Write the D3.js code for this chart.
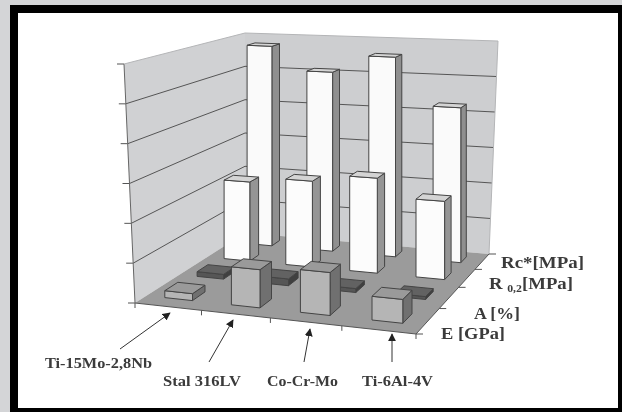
<!DOCTYPE html>
<html>
<head>
<meta charset="utf-8">
<script src="https://cdn.jsdelivr.net/npm/d3@7"></script>
<style>
html, body { margin: 0; padding: 0; background: #d4d5d7; }
svg { display: block; }
text { font-family: "Liberation Serif", serif; font-weight: bold; fill: #3a3a3a; }
</style>
</head>
<body>
<svg id="chart" width="622" height="412"></svg>
<script>
// values
var materials = ["Ti-15Mo-2,8Nb", "Stal 316LV", "Co-Cr-Mo", "Ti-6Al-4V"];
var properties = ["E [GPa]", "A [%]", "R 0,2[MPa]", "Rc*[MPa]"];
var eValues = [35, 190, 210, 115];
var aValues = [25, 35, 20, 15];
var r02Values = [440, 470, 512, 415];
var rcValues = [1155, 1020, 1120, 855];
var seriesValues = [eValues, aValues, r02Values, rcValues];
var valueTicks = [0, 200, 400, 600, 800, 1000, 1200];

var width = 622, height = 412;
var svg = d3.select("#chart");

// the 3d box of the chart: [front, back] at floor and at top of the walls
var floorLeft = [[135, 303], [245, 233]];
var floorRight = [[416, 334], [489, 254]];
var topLeft = [[124, 64], [245, 33]];
var topRight = [[433, 79], [498, 41]];

var xScale = d3.scaleBand().domain(materials).range([0, 1]).paddingInner(0.58).paddingOuter(0.28);
var zScale = d3.scaleBand().domain(properties).range([0, 1]).paddingInner(0.62).paddingOuter(0.31);
var yScale = d3.scaleLinear().domain([0, 1200]).range([0, 1]);

function lerp(a, b, t) {
    return [a[0] + (b[0] - a[0]) * t, a[1] + (b[1] - a[1]) * t];
}

// perspective squeeze along one floor direction
function warp(t, k) {
    return t * k / (1 + (k - 1) * t);
}

// u along the materials, v into the depth, w up the value axis
function project(u, v, w) {
    var a = warp(u, 0.93), b = warp(v, 1.4);
    var bottom = lerp(lerp(floorLeft[0], floorRight[0], a), lerp(floorLeft[1], floorRight[1], a), b);
    var up = lerp(lerp(topLeft[0], topRight[0], a), lerp(topLeft[1], topRight[1], a), b);
    return lerp(bottom, up, w);
}

// the bars stand straight up, only the walls lean
function projectBar(u, v, w) {
    return [project(u, v, 0)[0], project(u, v, w)[1]];
}

function poly(points) {
    return points.map(function (p) { return p[0].toFixed(1) + "," + p[1].toFixed(1); }).join(" ");
}

var defs = svg.append("defs");
defs.append("filter").attr("id", "soft")
    .attr("x", "-5%").attr("y", "-5%").attr("width", "110%").attr("height", "110%")
    .append("feGaussianBlur").attr("stdDeviation", 0.5);
defs.append("marker").attr("id", "arrow")
    .attr("viewBox", "0 0 10 10").attr("refX", 9).attr("refY", 5)
    .attr("markerWidth", 8).attr("markerHeight", 8).attr("markerUnits", "userSpaceOnUse")
    .attr("orient", "auto")
    .append("path").attr("d", "M0,0L10,5L0,10z").attr("fill", "#222");

// picture frame
svg.append("rect").attr("x", 10).attr("y", 5).attr("width", 612).attr("height", 407).attr("fill", "#000");
svg.append("rect").attr("x", 18).attr("y", 13).attr("width", 600).attr("height", 395).attr("fill", "#fff");

var plot = svg.append("g").attr("filter", "url(#soft)");

// walls and floor
plot.append("polygon").attr("points", poly([project(0, 0, 0), project(0, 1, 0), project(0, 1, 1), project(0, 0, 1)]))
    .attr("fill", "#d0d1d3");
plot.append("polygon").attr("points", poly([project(0, 1, 0), project(1, 1, 0), project(1, 1, 1), project(0, 1, 1)]))
    .attr("fill", "#cdced0");
plot.append("polygon").attr("points", poly([project(0, 0, 0), project(1, 0, 0), project(1, 1, 0), project(0, 1, 0)]))
    .attr("fill", "#9b9b9b");

// gridlines on the walls
valueTicks.forEach(function (t, i) {
    var w = yScale(t);
    if (i > 0 && i < valueTicks.length - 1) {
        plot.append("polyline").attr("points", poly([project(0, 0, w), project(0, 1, w), project(1, 1, w)]))
            .attr("fill", "none").attr("stroke", "#555").attr("stroke-width", 1);
    }
    var p = project(0, 0, w);
    plot.append("line").attr("x1", p[0] - 7).attr("y1", p[1]).attr("x2", p[0]).attr("y2", p[1])
        .attr("stroke", "#555");
});

// wall edges
plot.append("line").attr("x1", project(0, 0, 0)[0]).attr("y1", project(0, 0, 0)[1])
    .attr("x2", project(0, 0, 1)[0]).attr("y2", project(0, 0, 1)[1]).attr("stroke", "#666");
plot.append("polyline").attr("points", poly([project(0, 0, 1), project(0, 1, 1), project(1, 1, 1), project(1, 1, 0)]))
    .attr("fill", "none").attr("stroke", "#b4b5b7");

// floor edges and ticks
plot.append("polyline").attr("points", poly([project(0, 0, 0), project(1, 0, 0), project(1, 1, 0)]))
    .attr("fill", "none").attr("stroke", "#555");
d3.range(0, 5).forEach(function (i) {
    var a = project(i / 4, 0, 0);
    plot.append("line").attr("x1", a[0]).attr("y1", a[1]).attr("x2", a[0]).attr("y2", a[1] + 5).attr("stroke", "#555");
    var b = project(1, i / 4, 0);
    plot.append("line").attr("x1", b[0]).attr("y1", b[1]).attr("x2", b[0] + 7).attr("y2", b[1]).attr("stroke", "#555");
});

// bar colours per row
var frontFill = ["#b5b5b5", "#565656", "#fcfcfc", "#fafafa"];
var sideFill = ["#707070", "#3f3f3f", "#959595", "#8f8f8f"];
var topFill = ["#9a9a9a", "#626262", "#d4d4d4", "#d4d4d4"];

// back row first so the front rows paint over it
d3.range(properties.length - 1, -1, -1).forEach(function (row) {
    var z0 = zScale(properties[row]), z1 = z0 + zScale.bandwidth();
    materials.forEach(function (m, col) {
        var x0 = xScale(m), x1 = x0 + xScale.bandwidth();
        var w = yScale(seriesValues[row][col]);
        var bar = plot.append("g").attr("stroke", "#444").attr("stroke-width", 1).attr("stroke-linejoin", "round");
        bar.append("polygon").attr("points", poly([projectBar(x1, z0, 0), projectBar(x1, z1, 0), projectBar(x1, z1, w), projectBar(x1, z0, w)]))
            .attr("fill", sideFill[row]);
        bar.append("polygon").attr("points", poly([projectBar(x0, z0, 0), projectBar(x1, z0, 0), projectBar(x1, z0, w), projectBar(x0, z0, w)]))
            .attr("fill", frontFill[row]);
        bar.append("polygon").attr("points", poly([projectBar(x0, z0, w), projectBar(x1, z0, w), projectBar(x1, z1, w), projectBar(x0, z1, w)]))
            .attr("fill", topFill[row]);
    });
});

// arrows from the material names to the first row
var arrowFrom = [[120, 349], [209, 362], [304, 362], [392, 362]];
var arrowTo = [[170, 313], [233, 320], [310, 329], [392, 334]];
materials.forEach(function (m, i) {
    plot.append("line")
        .attr("x1", arrowFrom[i][0]).attr("y1", arrowFrom[i][1])
        .attr("x2", arrowTo[i][0]).attr("y2", arrowTo[i][1])
        .attr("stroke", "#333").attr("stroke-width", 1)
        .attr("marker-end", "url(#arrow)");
});

// material names
var materialX = [45, 163, 267, 362];
var materialY = [368, 386, 386, 386];
var materialW = [107, 78, 71, 71];
materials.forEach(function (m, i) {
    plot.append("text").attr("x", materialX[i]).attr("y", materialY[i])
        .attr("font-size", 15)
        .attr("textLength", materialW[i]).attr("lengthAdjust", "spacingAndGlyphs")
        .text(m);
});

// property names at the right
var propertyX = [441, 474, 489, 501];
var propertyY = [339, 319, 289, 268];
var propertyW = [64, 46, 84, 83];
properties.forEach(function (p, i) {
    var label = plot.append("text").attr("x", propertyX[i]).attr("y", propertyY[i])
        .attr("font-size", 17.5).attr("textLength", propertyW[i]).attr("lengthAdjust", "spacingAndGlyphs");
    if (i == 2) {
        label.append("tspan").text("R ");
        label.append("tspan").attr("font-size", 11).attr("dy", 3).text("0,2");
        label.append("tspan").attr("dy", -3).text("[MPa]");
    } else {
        label.text(p);
    }
});
</script>
</body>
</html>
